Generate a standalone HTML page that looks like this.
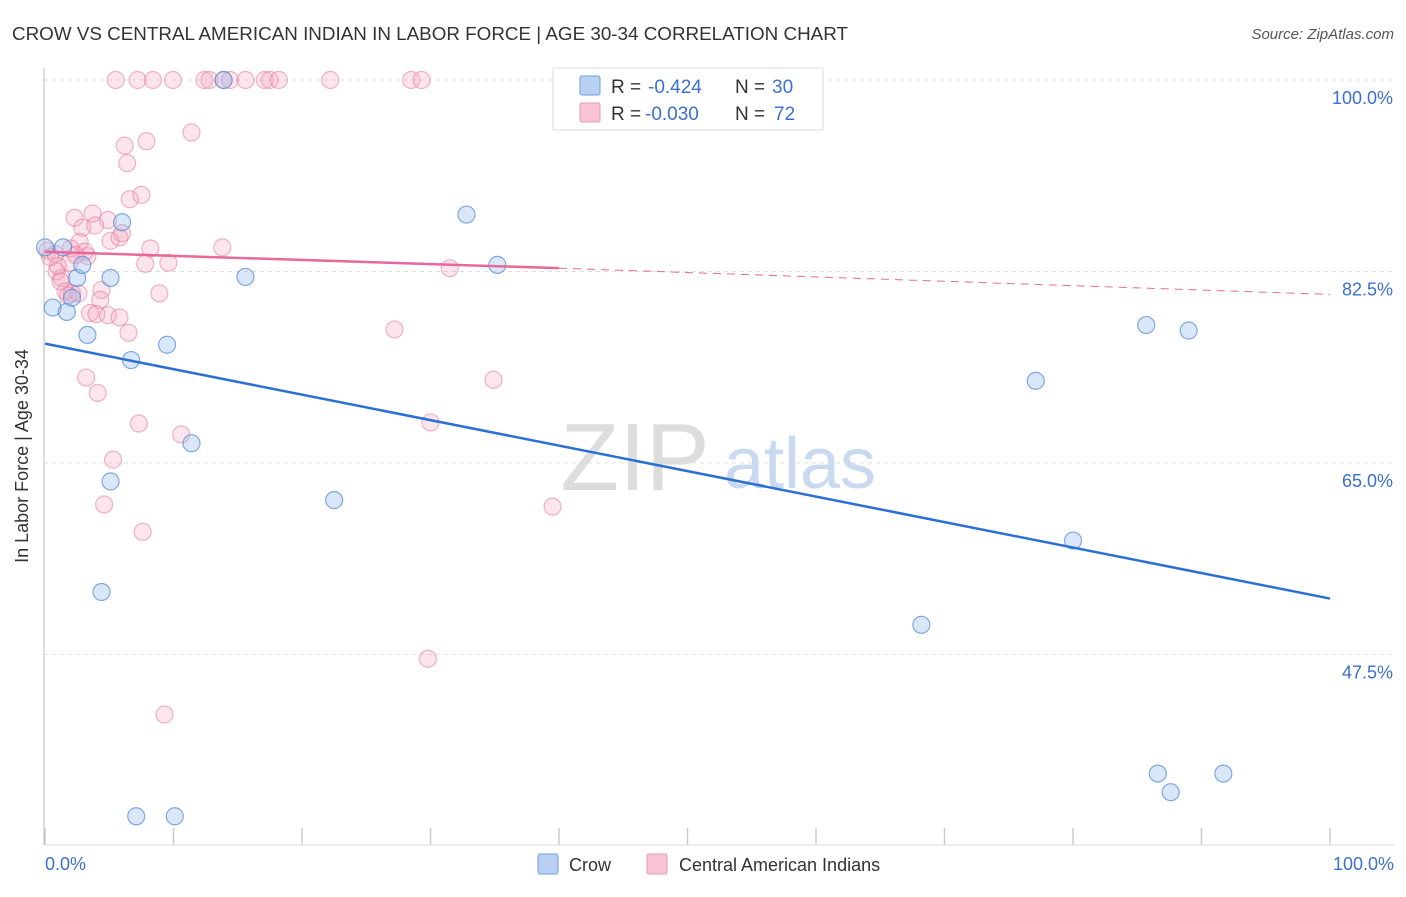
<!DOCTYPE html>
<html><head><meta charset="utf-8"><style>
body{margin:0;background:#fff;font-family:"Liberation Sans",sans-serif;}
svg text{font-family:"Liberation Sans",sans-serif;}
</style></head><body>
<svg id="chart" width="1406" height="892">
<text x="12" y="40" font-size="18" fill="#333" textLength="836" lengthAdjust="spacingAndGlyphs">CROW VS CENTRAL AMERICAN INDIAN IN LABOR FORCE | AGE 30-34 CORRELATION CHART</text>
<text x="1394" y="39" font-size="15" fill="#555" font-style="italic" text-anchor="end">Source: ZipAtlas.com</text>
<text x="635" y="490" font-size="96" fill="#ddd" text-anchor="middle" font-family="Liberation Serif">ZIP</text>
<text x="800" y="488" font-size="72" fill="#c9d9ef" text-anchor="middle">atlas</text>
<g id="grid"></g>
<line x1="44" y1="68" x2="44" y2="845" stroke="#bbb"/>
<line x1="44" y1="845" x2="1394" y2="845" stroke="#ddd"/>
<text x="28" y="456" font-size="18" fill="#333" text-anchor="middle" transform="rotate(-90 28 456)">In Labor Force | Age 30-34</text>
<text x="45" y="870" font-size="18" fill="#3b6fd1">0.0%</text>
<text x="1394" y="870" font-size="18" fill="#3b6fd1" text-anchor="end">100.0%</text>
<g id="pts"></g>
<g id="lines"></g>
<g>
<rect x="553" y="68" width="270" height="62" fill="#fff" stroke="#ddd"/>
<rect x="580" y="76" width="20" height="19" fill="#b8d1f3" stroke="#6f9de0" rx="2"/>
<rect x="580" y="103" width="20" height="19" fill="#f8c4d3" stroke="#ec9ab3" rx="2"/>
<text x="611" y="93" font-size="19" fill="#333">R =</text>
<text x="648" y="93" font-size="19" fill="#3b6fd1">-0.424</text>
<text x="735" y="93" font-size="19" fill="#333">N =</text>
<text x="772" y="93" font-size="19" fill="#3b6fd1">30</text>
<text x="611" y="120" font-size="19" fill="#333">R =</text>
<text x="645" y="120" font-size="19" fill="#3b6fd1">-0.030</text>
<text x="735" y="120" font-size="19" fill="#333">N =</text>
<text x="774" y="120" font-size="19" fill="#3b6fd1">72</text>
</g>
<g>
<rect x="538" y="854" width="20" height="20" fill="#b8d1f3" stroke="#6f9de0" rx="2"/>
<text x="569" y="871" font-size="18" fill="#333">Crow</text>
<rect x="647" y="854" width="20" height="20" fill="#f8c4d3" stroke="#ec9ab3" rx="2"/>
<text x="679" y="871" font-size="18" fill="#333">Central American Indians</text>
</g>
</svg>
<script>
const yTicks=[100,82.5,65,47.5];
const xTicks=[0,10,20,30,40,50,60,70,80,90,100];
const crowX=[0,1.4,0.6,1.7,2.1,2.5,2.9,3.3,5.1,6.0,6.7,9.5,11.4,5.1,4.4,7.1,10.1,13.9,15.6,22.5,32.8,35.2,68.2,77.1,80.0,85.7,89.0,86.6,87.6,91.7];
const crowY=[84.7,84.7,79.2,78.8,80.1,81.9,83.1,76.7,81.9,87.0,74.4,75.8,66.8,63.3,53.2,32.7,32.7,100,82.0,61.6,87.7,83.1,50.2,72.5,57.9,77.6,77.1,36.6,34.9,36.6];
const camX=[5.5,7.2,8.4,9.96,12.4,12.8,13.9,14.4,15.6,17.1,17.5,18.2,22.2,28.5,29.3,11.4,7.9,6.2,6.4,6.6,7.5,2.3,3.7,4.9,2.9,3.9,2.7,5.1,5.8,8.2,13.8,0.2,0.8,1.9,3.3,7.8,9.6,31.5,0.9,1.3,1.6,2.1,4.4,2.6,8.9,4.3,3.5,4.0,4.9,5.8,6.5,27.2,3.2,4.1,34.9,7.3,10.6,30.0,5.3,4.6,7.6,39.5,29.8,9.3,0.4,1.2,1.8,3.1,2.0,2.4,6.0,1.0];
const camY=[100,100,100,100,100,100,100,100,100,100,100,100,100,100,100,95.2,94.4,94.0,92.4,89.1,89.5,87.4,87.8,87.2,86.5,86.7,85.2,85.3,85.6,84.6,84.7,84.4,84.1,83.3,83.9,83.2,83.3,82.8,82.5,81.9,80.7,80.5,80.8,80.5,80.5,79.9,78.7,78.6,78.5,78.3,76.9,77.2,72.8,71.4,72.6,68.6,67.6,68.7,65.3,61.2,58.7,61.0,47.1,42.0,83.8,81.6,80.3,84.3,84.6,84.0,86.0,83.0];
const crowLine=[75.9,52.6];
const camLineA=[84.3,82.8,40];
const camLineB=80.4;
const sx=v=>45+v*12.85, sy=v=>80+(100-v)*10.94;
const NS='http://www.w3.org/2000/svg';
function mk(t,a,p){const e=document.createElementNS(NS,t);for(const k in a)e.setAttribute(k,a[k]);p.appendChild(e);return e;}
const grid=document.getElementById('grid');
yTicks.forEach(t=>{
 const l=mk('line',{x1:44,x2:1394,y1:sy(t),y2:sy(t),stroke:'#ddd','stroke-dasharray':'4,4'},grid);
 
 
 const tx=mk('text',{x:1393,y:sy(t)+24,'font-size':18,fill:'#3b6fd1','text-anchor':'end'},grid);
 tx.textContent=t.toFixed(1)+'%';
 
 
});
xTicks.forEach(t=>{
 const l=mk('line',{x1:sx(t),x2:sx(t),y1:828,y2:845,stroke:'#ccc','stroke-width':1.5},grid);
 
 
});
const pts=document.getElementById('pts');
camX.forEach((x,i)=>{
 const c=mk('circle',{cx:sx(x),cy:sy(camY[i]),r:8.5,fill:'rgba(244,160,186,0.28)',stroke:'rgba(230,120,155,0.55)','stroke-width':1.2},pts);
 
 
});
crowX.forEach((x,i)=>{
 const c=mk('circle',{cx:sx(x),cy:sy(crowY[i]),r:8.5,fill:'rgba(160,195,240,0.4)',stroke:'rgba(80,135,215,0.7)','stroke-width':1.2},pts);
 
 
});
const lines=document.getElementById('lines');
let l1=mk('line',{x1:sx(0),y1:sy(crowLine[0]),x2:sx(100),y2:sy(crowLine[1]),stroke:'#2a6fd6','stroke-width':2.5},lines);


let l2=mk('line',{x1:sx(0),y1:sy(camLineA[0]),x2:sx(camLineA[2]),y2:sy(camLineA[1]),stroke:'#e8689a','stroke-width':2.5},lines);


let l3=mk('line',{x1:sx(camLineA[2]),y1:sy(camLineA[1]),x2:sx(100),y2:sy(camLineB),stroke:'#e8689a','stroke-width':1,'stroke-dasharray':'8,6'},lines);


</script>
</body></html>
